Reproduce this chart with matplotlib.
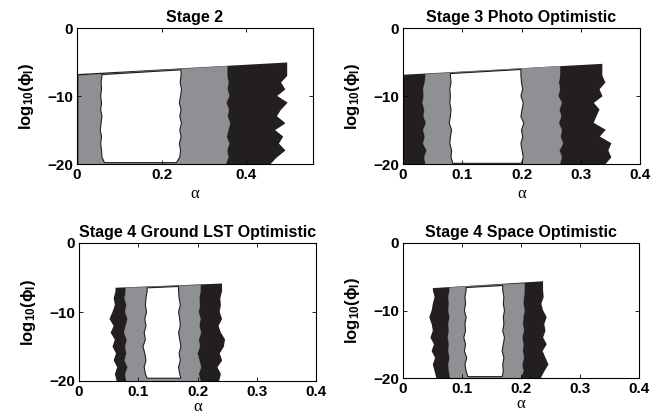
import numpy as np
import matplotlib
matplotlib.use("Agg")
import matplotlib.pyplot as plt

plt.rcParams["font.family"] = ["Liberation Sans", "DejaVu Sans"]
plt.rcParams["mathtext.fontset"] = "custom"
plt.rcParams["mathtext.rm"] = "Liberation Sans:bold"
plt.rcParams["mathtext.it"] = "Liberation Sans:bold"
plt.rcParams["mathtext.bf"] = "Liberation Sans:bold"

# ============================================================
# Data: band edges in alpha at each log10(phi) level
# ============================================================

ylev = [-20, -19, -18, -17, -16, -15, -14, -13, -12, -11, -10, -9, -8, -7]

titles = ["Stage 2", "Stage 3 Photo Optimistic",
          "Stage 4 Ground LST Optimistic", "Stage 4 Space Optimistic"]
xmax = [0.558, 0.4, 0.4, 0.4]
xticks_p1 = [0, 0.2, 0.4]
xticks_rest = [0, 0.1, 0.2, 0.3, 0.4]
yticks = [-20, -10, 0]

# Stage 2
p1_black_lo = [0.0] * 14
p1_black_hi = [0.455, 0.47, 0.49, 0.475, 0.485, 0.465, 0.49, 0.47, 0.48, 0.495, 0.47, 0.49, 0.48, 0.495]
p1_gray_lo = [0.004] * 14
p1_gray_hi = [0.352, 0.358, 0.355, 0.36, 0.354, 0.358, 0.362, 0.356, 0.359, 0.353, 0.36, 0.356, 0.358, 0.355]
p1_white_lo = [0.065, 0.059, 0.058, 0.056, 0.058, 0.055, 0.057, 0.059, 0.056, 0.058, 0.056, 0.058, 0.057, 0.059]
p1_white_hi = [0.235, 0.243, 0.245, 0.242, 0.246, 0.243, 0.247, 0.243, 0.246, 0.242, 0.245, 0.247, 0.244, 0.246]
p1_tops = [(-6.9, -5.2), (-7.0, -5.6), (-6.85, -6.15)]
p1_white_bot = -19.8

# Stage 3 Photo Optimistic
p2_black_lo = [0.0] * 14
p2_black_hi = [0.34, 0.35, 0.345, 0.35, 0.33, 0.34, 0.32, 0.325, 0.33, 0.32, 0.335, 0.33, 0.34, 0.335]
p2_gray_lo = [0.038, 0.036, 0.04, 0.034, 0.037, 0.034, 0.039, 0.035, 0.036, 0.033, 0.035, 0.034, 0.037, 0.038]
p2_gray_hi = [0.265, 0.268, 0.264, 0.27, 0.266, 0.268, 0.263, 0.267, 0.264, 0.268, 0.262, 0.265, 0.263, 0.265]
p2_white_lo = [0.084, 0.081, 0.082, 0.079, 0.08, 0.082, 0.078, 0.08, 0.081, 0.079, 0.08, 0.079, 0.081, 0.08]
p2_white_hi = [0.2, 0.203, 0.201, 0.199, 0.202, 0.2, 0.204, 0.199, 0.201, 0.203, 0.199, 0.202, 0.2, 0.199]
p2_tops = [(-7.0, -5.4), (-6.8, -5.6), (-6.7, -6.1)]
p2_white_bot = -19.9

# Stage 4 Ground LST Optimistic
p3_black_lo = [0.065, 0.062, 0.066, 0.06, 0.064, 0.058, 0.062, 0.055, 0.06, 0.053, 0.058, 0.062, 0.06, 0.063]
p3_black_hi = [0.235, 0.238, 0.232, 0.24, 0.236, 0.243, 0.245, 0.238, 0.234, 0.24, 0.236, 0.238, 0.237, 0.24]
p3_gray_lo = [0.08, 0.078, 0.082, 0.077, 0.08, 0.078, 0.081, 0.076, 0.079, 0.082, 0.078, 0.08, 0.077, 0.079]
p3_gray_hi = [0.205, 0.202, 0.206, 0.203, 0.2, 0.204, 0.202, 0.206, 0.203, 0.205, 0.202, 0.204, 0.203, 0.205]
p3_white_lo = [0.115, 0.112, 0.11, 0.113, 0.111, 0.108, 0.112, 0.11, 0.113, 0.111, 0.114, 0.112, 0.113, 0.115]
p3_white_hi = [0.172, 0.17, 0.168, 0.171, 0.169, 0.172, 0.17, 0.168, 0.171, 0.17, 0.168, 0.171, 0.169, 0.168]
p3_tops = [(-6.6, -6.0), (-6.5, -6.1), (-6.5, -6.3)]
p3_white_bot = -19.6

# Stage 4 Space Optimistic
p4_black_lo = [0.058, 0.055, 0.052, 0.056, 0.05, 0.054, 0.048, 0.052, 0.05, 0.046, 0.05, 0.052, 0.055, 0.052]
p4_black_hi = [0.232, 0.238, 0.245, 0.24, 0.235, 0.242, 0.236, 0.24, 0.238, 0.242, 0.236, 0.233, 0.237, 0.236]
p4_gray_lo = [0.08, 0.078, 0.077, 0.079, 0.077, 0.078, 0.076, 0.078, 0.077, 0.079, 0.077, 0.078, 0.077, 0.079]
p4_gray_hi = [0.2, 0.204, 0.202, 0.205, 0.203, 0.204, 0.202, 0.205, 0.203, 0.204, 0.206, 0.204, 0.205, 0.206]
p4_white_lo = [0.11, 0.107, 0.105, 0.108, 0.104, 0.106, 0.103, 0.106, 0.105, 0.107, 0.104, 0.106, 0.105, 0.107]
p4_white_hi = [0.168, 0.17, 0.169, 0.171, 0.168, 0.17, 0.172, 0.169, 0.171, 0.17, 0.172, 0.17, 0.171, 0.169]
p4_tops = [(-6.8, -5.8), (-6.6, -6.0), (-6.6, -6.3)]
p4_white_bot = -19.8

BLACK = "#231f20"
GRAY = "#8f9094"


def band(ax, lo, hi, top, color, ybot=None, edge=None, lw=0.6):
    y = np.array(ylev, dtype=float)
    if ybot is not None:
        y = np.maximum(y, ybot)
    xs = np.concatenate([lo, [lo[-1], hi[-1]], hi[::-1]])
    ys = np.concatenate([y, top, y[::-1]])
    ax.fill(xs, ys, facecolor=color, edgecolor=edge or color, linewidth=lw)


panels = [
    (p1_black_lo, p1_black_hi, p1_gray_lo, p1_gray_hi, p1_white_lo, p1_white_hi, p1_tops, p1_white_bot),
    (p2_black_lo, p2_black_hi, p2_gray_lo, p2_gray_hi, p2_white_lo, p2_white_hi, p2_tops, p2_white_bot),
    (p3_black_lo, p3_black_hi, p3_gray_lo, p3_gray_hi, p3_white_lo, p3_white_hi, p3_tops, p3_white_bot),
    (p4_black_lo, p4_black_hi, p4_gray_lo, p4_gray_hi, p4_white_lo, p4_white_hi, p4_tops, p4_white_bot),
]

# axes rectangles in pixels (left, top, right, bottom)
W, H = 652, 418
boxes_px = [(77, 28, 313, 164), (403, 28, 640, 164),
            (79, 243, 316, 381), (403, 243, 639, 378)]

fig = plt.figure(figsize=(6.52, 4.18), dpi=100)

for i, (bk_lo, bk_hi, gr_lo, gr_hi, wh_lo, wh_hi, tops, wbot) in enumerate(panels):
    l, t, r, b = boxes_px[i]
    ax = fig.add_axes([l / W, 1 - b / H, (r - l) / W, (b - t) / H])

    band(ax, bk_lo, bk_hi, tops[0], BLACK, lw=1.2)
    band(ax, gr_lo, gr_hi, tops[1], GRAY, lw=0.3)
    band(ax, wh_lo, wh_hi, tops[2], "white", ybot=wbot, edge=BLACK, lw=0.8)

    xt = xticks_p1 if i == 0 else xticks_rest
    ax.set_xlim(0, xmax[i])
    ax.set_ylim(-20, 0)
    ax.set_xticks(xt)
    ax.set_xticklabels(["0" if v == 0 else f"{v:g}" for v in xt])
    ax.set_yticks(yticks)
    ax.set_yticklabels(["\u221220", "\u221210", "0"])
    ax.tick_params(direction="in", length=3, width=0.6, top=True, right=True,
                   labelsize=11, pad=3)
    for lab in ax.get_xticklabels() + ax.get_yticklabels():
        lab.set_fontweight("bold")
    for sp in ax.spines.values():
        sp.set_linewidth(0.8)

    ax.set_title(titles[i], fontsize=11.5, fontweight="bold", pad=4)
    ax.set_xlabel("\u03b1", fontfamily="Liberation Serif", fontsize=12,
                  labelpad=3 if i < 2 else 0)
    ax.set_ylabel(r"$\mathbf{log_{10}(\phi_l)}$", fontsize=12, labelpad=8)

fig.savefig("out.png", dpi=100)
